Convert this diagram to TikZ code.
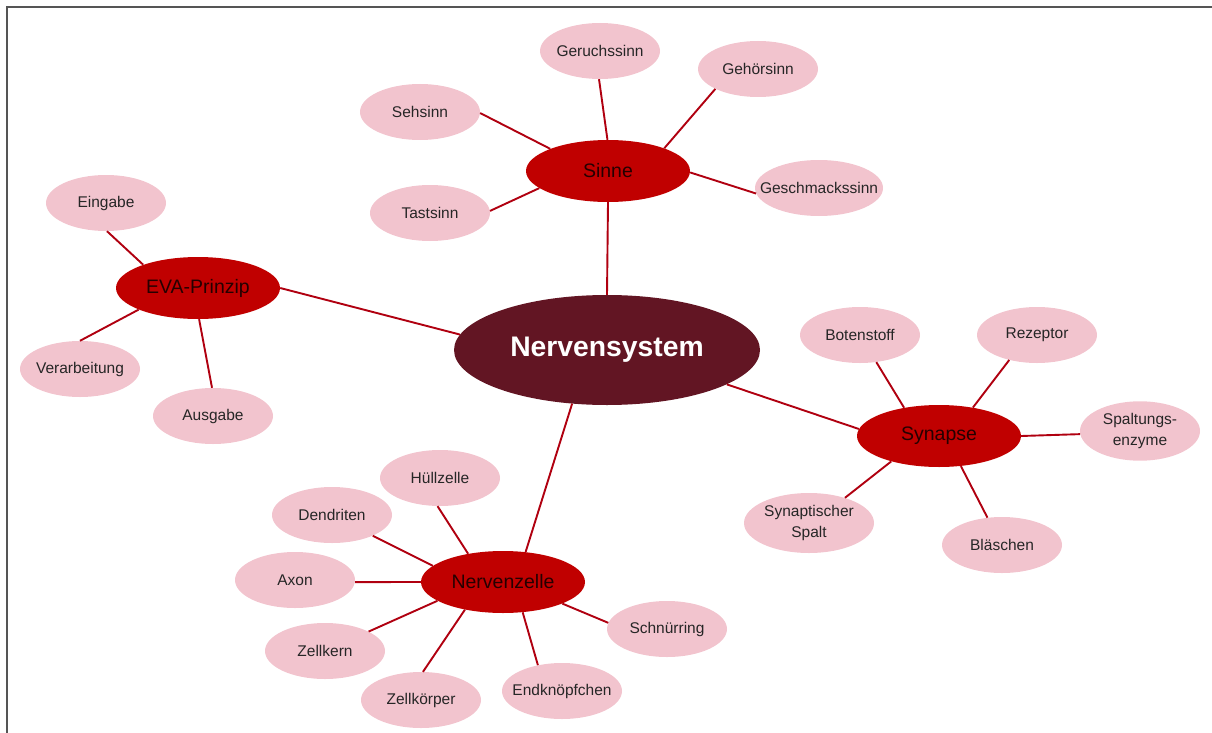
\documentclass[tikz,border=0pt]{standalone}
\usepackage{fontspec}
\setmainfont{Liberation Sans}
\usetikzlibrary{shapes.geometric}
\definecolor{leafpink}{HTML}{F2C4CE}
\definecolor{leaftext}{HTML}{262626}
\definecolor{hubred}{HTML}{C00000}
\definecolor{hubtext}{HTML}{250000}
\definecolor{rootred}{HTML}{621523}
\definecolor{linkred}{HTML}{B00010}
\definecolor{framegray}{HTML}{555555}
\newcommand{\zb}[1]{\makebox[0pt]{#1}}
\tikzset{
  leaf/.style={ellipse, fill=leafpink, inner sep=0pt, minimum width=120pt, minimum height=56pt, font=\fontsize{15.5}{21}\selectfont, text=leaftext},
  hub/.style={ellipse, fill=hubred, inner sep=0pt, minimum width=164pt, minimum height=62pt, font=\fontsize{19.5}{23}\selectfont, text=hubtext},
  root/.style={ellipse, fill=rootred, inner sep=0pt, minimum width=306pt, minimum height=110pt, font=\bfseries\fontsize{28.3}{32}\selectfont, text=white},
  link/.style={draw=linkred, line width=1.9pt},
  frameline/.style={draw=framegray, line width=2pt}
}
\begin{document}
\begin{tikzpicture}[x=1pt,y=-1pt]
\useasboundingbox (0,0) rectangle (1212,733);
\draw[frameline] (7,733) -- (7,7) -- (1212,7);

% central
\node[root] (N) at (607,350) {\zb{Nervensystem}};
% hubs
\node[hub] (S) at (608,171) {\zb{Sinne}};
\node[hub] (E) at (198,288) {\zb{EVA-Prinzip}};
\node[hub] (Y) at (939,436) {\zb{Synapse}};
\node[hub] (Z) at (503,582) {\zb{Nervenzelle}};
% Sinne leaves
\node[leaf] (geruch) at (600,51) {\zb{Geruchssinn}};
\node[leaf] (gehoer) at (758,69) {\zb{Gehörsinn}};
\node[leaf] (seh) at (420,112) {\zb{Sehsinn}};
\node[leaf] (tast) at (430,213) {\zb{Tastsinn}};
\node[leaf, minimum width=128pt] (geschmack) at (819,188) {\zb{Geschmackssinn}};
% EVA leaves
\node[leaf] (eingabe) at (106,203) {\zb{Eingabe}};
\node[leaf] (verarb) at (80,369) {\zb{Verarbeitung}};
\node[leaf] (ausgabe) at (213,416) {\zb{Ausgabe}};
% Synapse leaves
\node[leaf] (boten) at (860,335) {\zb{Botenstoff}};
\node[leaf] (rezeptor) at (1037,335) {\zb{Rezeptor}};
\node[leaf] (spaltung) at (1140,431) {\zb{\begin{tabular}{@{}c@{}}Spaltungs-\\enzyme\end{tabular}}};
\node[leaf, minimum width=130pt, minimum height=60pt] (synspalt) at (809,523) {\zb{\begin{tabular}{@{}c@{}}Synaptischer\\Spalt\end{tabular}}};
\node[leaf] (blaeschen) at (1002,545) {\zb{Bläschen}};
% Nervenzelle leaves
\node[leaf] (huell) at (440,478) {\zb{Hüllzelle}};
\node[leaf] (dendriten) at (332,515) {\zb{Dendriten}};
\node[leaf] (axon) at (295,580) {\zb{Axon}};
\node[leaf] (zellkern) at (325,651) {\zb{Zellkern}};
\node[leaf] (zellkoerper) at (421,700) {\zb{Zellkörper}};
\node[leaf] (endknopf) at (562,691) {\zb{Endknöpfchen}};
\node[leaf] (schnuer) at (667,629) {\zb{Schnürring}};

% connectors: hubs to centre
\draw[link] (S.south) -- (N.north);
\draw[link] (E.0.7) -- (N.174.3);
\draw[link] (Y.175) -- (N.-16.4);
\draw[link] (N.-123.2) -- (Z.53.7);
% Sinne
\draw[link] (S.91.8) -- (geruch.-92);
\draw[link] (S.22.8) -- (gehoer.-155);
\draw[link] (S.159.9) -- (seh.-1);
\draw[link] (S.194.6) -- (tast.2);
\draw[link] (S.-1) -- (geschmack.-175.5);
% EVA
\draw[link] (E.157.2) -- (eingabe.-88);
\draw[link] (E.200.7) -- (verarb.90);
\draw[link] (E.-88.2) -- (ausgabe.92);
% Synapse
\draw[link] (Y.141.9) -- (boten.-59.3);
\draw[link] (Y.40.5) -- (rezeptor.-138.2);
\draw[link] (Y.0) -- (spaltung.-177);
\draw[link] (Y.-152.5) -- (synspalt.35.8);
\draw[link] (Y.-54.6) -- (blaeschen.118.2);
% Nervenzelle
\draw[link] (Z.141.9) -- (huell.-95.9);
\draw[link] (Z.167) -- (dendriten.-27.1);
\draw[link] (Z.180) -- (axon.-2);
\draw[link] (Z.-164.8) -- (zellkern.24.4);
\draw[link] (Z.-144.7) -- (zellkoerper.86);
\draw[link] (Z.-57.2) -- (endknopf.133.9);
\draw[link] (Z.-20.4) -- (schnuer.174.2);
\end{tikzpicture}
\end{document}
